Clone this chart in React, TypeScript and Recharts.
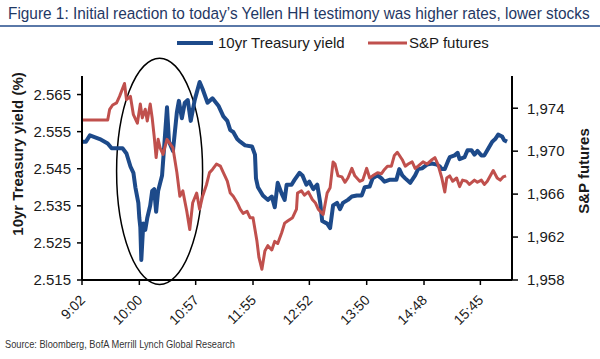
import React from 'react';
import { LineChart, Line, XAxis, YAxis, Legend, ReferenceArea } from 'recharts';

// ---- data (minutes after 9:00) ----
const yieldMinute = [2,6,10,20,28,32,43,47,51,54,56,59,60,61,62,64,66,68,71,73,75,77,79,83,85,88,90,94,98,100,103,106,109,112,116,121,124,129,134,140,145,149,152,155,159,162,167,174,177,178,180,185,190,194,197,200,204,207,209,214,217,222,225,229,232,236,240,243,245,250,253,256,260,263,266,271,275,280,285,288,293,296,301,305,308,313,320,323,326,329,334,339,342,346,351,356,361,364,366,369,372,374,379,382,384,389,392,396,399,402,406,409,412,417,420,423,427,429,432];
const yieldValue = [2.5523,2.5523,2.5540,2.5530,2.5518,2.5505,2.5505,2.5491,2.5456,2.5439,2.5400,2.5358,2.5317,2.5292,2.5204,2.5302,2.5285,2.5317,2.5351,2.5390,2.5395,2.5334,2.5390,2.5432,2.5505,2.5616,2.5523,2.5498,2.5603,2.5633,2.5586,2.5628,2.5635,2.5579,2.5635,2.5684,2.5665,2.5628,2.5640,2.5620,2.5591,2.5579,2.5554,2.5549,2.5530,2.5523,2.5513,2.5510,2.5488,2.5424,2.5400,2.5378,2.5366,2.5375,2.5346,2.5412,2.5383,2.5366,2.5407,2.5407,2.5420,2.5439,2.5432,2.5407,2.5415,2.5395,2.5407,2.5358,2.5309,2.5302,2.5290,2.5351,2.5358,2.5341,2.5358,2.5366,2.5375,2.5378,2.5378,2.5400,2.5402,2.5424,2.5432,2.5424,2.5415,2.5420,2.5420,2.5449,2.5432,2.5424,2.5412,2.5432,2.5449,2.5451,2.5461,2.5464,2.5461,2.5456,2.5449,2.5449,2.5469,2.5481,2.5486,2.5493,2.5476,2.5481,2.5500,2.5500,2.5488,2.5498,2.5486,2.5486,2.5500,2.5523,2.5530,2.5542,2.5537,2.5527,2.5523];

const spxMinute = [2,15,28,30,33,37,40,45,47,51,54,58,61,63,66,68,71,73,75,77,79,81,84,88,91,94,98,101,104,108,111,114,118,121,124,128,131,134,138,142,145,149,152,155,159,162,165,169,172,175,177,179,181,184,187,190,194,197,200,204,207,210,215,219,220,224,227,231,235,238,241,245,246,250,253,256,258,261,265,268,271,275,278,283,286,290,293,296,301,305,308,311,315,318,321,326,329,332,336,339,342,347,351,356,359,362,366,369,371,374,377,381,384,387,391,394,399,402,406,409,412,418,422,425,428,431];
const spxValue = [1972.9,1972.9,1972.9,1973.9,1974.3,1974.5,1975.1,1976.3,1974.8,1975.1,1973.4,1972.6,1974.4,1973.1,1973.9,1972.8,1974.4,1973.1,1971.4,1969.4,1971.1,1970.3,1969.7,1971.1,1970.7,1970.3,1968.0,1965.8,1966.3,1964.4,1962.7,1965.2,1966.1,1964.6,1965.8,1966.9,1968.0,1968.3,1968.8,1968.6,1968.0,1967.2,1966.1,1965.8,1965.2,1964.6,1964.2,1964.4,1963.8,1963.8,1962.7,1961.6,1960.1,1959.0,1960.7,1961.2,1960.8,1961.6,1961.4,1962.4,1963.3,1963.5,1963.8,1964.6,1966.1,1966.3,1965.9,1966.2,1965.5,1965.2,1964.6,1964.2,1964.1,1966.1,1966.6,1969.0,1968.8,1967.7,1967.6,1967.1,1967.5,1968.4,1967.7,1967.2,1967.3,1968.4,1967.5,1967.7,1968.0,1967.9,1968.3,1968.6,1968.6,1969.6,1969.9,1969.2,1968.6,1968.8,1969.0,1968.4,1968.6,1969.0,1968.8,1969.2,1969.4,1968.8,1967.5,1966.2,1967.5,1967.7,1967.2,1967.5,1966.7,1967.3,1967.2,1966.9,1967.3,1967.1,1967.3,1966.9,1967.2,1968.2,1967.5,1967.3,1967.6,1967.7];

const xTickLabels = ['9:02', '10:00', '10:57', '11:55', '12:52', '13:50', '14:48', '15:45'];
const yieldTicks = [2.515, 2.525, 2.535, 2.545, 2.555, 2.565];
const spxTicks = [1958, 1962, 1966, 1970, 1974];

const seriesNames = { yield: '10yr Treasury yield', spx: 'S&P futures' };
const TITLE = 'Figure 1: Initial reaction to today\u2019s Yellen HH testimony was higher rates, lower stocks';
const SOURCE = 'Source: Bloomberg, BofA Merrill Lynch Global Research';

// ---- helpers ----
const toMinute = (s: string) => {
  const [h, m] = s.split(':').map(Number);
  return (h - 9) * 60 + m;
};
const fmtMinute = (v: number) => {
  const h = 9 + Math.floor(v / 60);
  const m = v % 60;
  return `${h}:${m < 10 ? '0' + m : m}`;
};
const xTicks = xTickLabels.map(toMinute);
const yieldData = yieldMinute.map((t, i) => ({ t, v: yieldValue[i] }));
const spxData = spxMinute.map((t, i) => ({ t, v: spxValue[i] }));

const BLUE = '#1d4a8a';
const RED = '#c0504d';
const FONT = "'Liberation Sans', Arial, sans-serif";
const TEXT = '#1a1a1a';

const XTick = (props: any) => {
  const { x, y, payload } = props;
  const ax = x + 4;
  const ay = y + 14;
  return (
    <text x={ax} y={ay} transform={`rotate(-45 ${ax} ${ay})`} textAnchor="end"
      fontSize={14} fontFamily={FONT} fill={TEXT}>
      {fmtMinute(payload.value)}
    </text>
  );
};

const LegendContent = (props: any) => {
  const payload = props.payload || [];
  const pos = [
    { x1: 177, x2: 213, tx: 218, w: 4 },
    { x1: 368, x2: 407, tx: 409, w: 3 },
  ];
  return (
    <svg width={600} height={20} style={{ display: 'block' }}>
      {payload.map((p: any, i: number) => (
        <g key={i}>
          <line x1={pos[i].x1} x2={pos[i].x2} y1={10} y2={10} stroke={p.color} strokeWidth={pos[i].w} />
          <text x={pos[i].tx} y={15} fontSize={15} fontFamily={FONT} fill={TEXT}>{p.value}</text>
        </g>
      ))}
    </svg>
  );
};

const EllipseShape = (props: any) => {
  const { x, y, width, height } = props;
  return (
    <ellipse cx={x + width / 2} cy={y + height / 2} rx={width / 2} ry={height / 2}
      fill="none" stroke="#000" strokeWidth={1.5} />
  );
};

export default function App() {
  return (
    <div style={{ position: 'absolute', left: 0, top: 0, width: 600, height: 359, background: '#fff' }}>
      <svg width={600} height={359} style={{ position: 'absolute', left: 0, top: 0 }}>
        <g transform="translate(8 19) scale(0.8 1)">
          <text x={0} y={0} fontSize={17} fontFamily={FONT} fill="#1f3864"
            textLength={727} lengthAdjust="spacingAndGlyphs">{TITLE}</text>
        </g>
        <rect x={0} y={25} width={600} height={2} fill="#5a78a8" />
        <text x={5} y={348} fontSize={10.5} fontFamily={FONT} fill="#333" textLength={230}
          lengthAdjust="spacingAndGlyphs">{SOURCE}</text>
        <text transform="translate(23 154) rotate(-90)" textAnchor="middle" fontSize={15} fontWeight="bold"
          fontFamily={FONT} fill={TEXT}>10yr Treasury yield (%)</text>
        <text transform="translate(589 171) rotate(-90)" textAnchor="middle" fontSize={15} fontWeight="bold"
          fontFamily={FONT} fill={TEXT}>S&amp;P futures</text>
      </svg>
      <div style={{ position: 'absolute', left: 0, top: 0 }}>
        <LineChart width={600} height={359} margin={{ top: 56, right: 28, bottom: 39, left: 22 }}>
          <XAxis dataKey="t" type="number" domain={[2, 437]} ticks={xTicks} allowDataOverflow
            stroke="#000" strokeWidth={2} tickSize={5} tickMargin={2} height={40}
            tickLine={{ stroke: '#000', strokeWidth: 1.5 }} tick={<XTick />} interval={0} />
          <YAxis yAxisId="left" orientation="left" domain={[2.515, 2.57]} ticks={yieldTicks}
            allowDataOverflow width={60} stroke="#000" strokeWidth={2} tickSize={5} tickMargin={6}
            tickLine={{ stroke: '#000', strokeWidth: 1.5 }}
            tickFormatter={(v: number) => v.toFixed(3)}
            tick={{ fontSize: 15, fontFamily: FONT, fill: TEXT }} />
          <YAxis yAxisId="right" orientation="right" domain={[1958, 1977]} ticks={spxTicks}
            allowDataOverflow width={60} stroke="#000" strokeWidth={2} tickSize={6} tickMargin={9}
            tickLine={{ stroke: '#000', strokeWidth: 1.5 }}
            tickFormatter={(v: number) => v.toLocaleString('en-US')}
            tick={{ fontSize: 15, fontFamily: FONT, fill: TEXT }} />
          <Legend verticalAlign="top" content={<LegendContent />}
            wrapperStyle={{ position: 'absolute', top: 33, left: 0, width: 600, height: 20 }} />
          <Line yAxisId="left" data={yieldData} dataKey="v" name={seriesNames.yield} type="linear"
            stroke={BLUE} strokeWidth={4} dot={false} isAnimationActive={false} strokeLinejoin="round" />
          <Line yAxisId="right" data={spxData} dataKey="v" name={seriesNames.spx} type="linear"
            stroke={RED} strokeWidth={3} dot={false} isAnimationActive={false} strokeLinejoin="round" />
          <ReferenceArea yAxisId="left" x1={37} x2={124} y1={2.5138} y2={2.5748} ifOverflow="visible"
            shape={<EllipseShape />} />
        </LineChart>
      </div>
    </div>
  );
}
